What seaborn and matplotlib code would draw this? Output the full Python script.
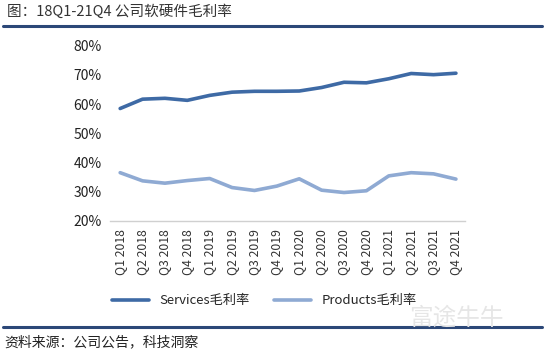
import pandas as pd
import matplotlib.pyplot as plt
import seaborn as sns
from matplotlib.lines import Line2D

quarters = ["Q1 2018", "Q2 2018", "Q3 2018", "Q4 2018",
            "Q1 2019", "Q2 2019", "Q3 2019", "Q4 2019",
            "Q1 2020", "Q2 2020", "Q3 2020", "Q4 2020",
            "Q1 2021", "Q2 2021", "Q3 2021", "Q4 2021"]
services = [58.5, 61.7, 62.0, 61.3, 63.0, 64.1, 64.4, 64.4,
            64.5, 65.7, 67.5, 67.3, 68.7, 70.5, 70.1, 70.6]
products = [36.5, 33.7, 32.9, 33.8, 34.5, 31.4, 30.4, 31.9,
            34.4, 30.5, 29.7, 30.3, 35.4, 36.5, 36.1, 34.3]
series_names = ["Services毛利率", "Products毛利率"]
y_ticks = [20, 30, 40, 50, 60, 70, 80]

sns.set_theme(style="white")
plt.rcParams["font.family"] = ["Noto Sans CJK SC", "DejaVu Sans"]

df = pd.DataFrame({
    "idx": list(range(len(quarters))) * 2,
    "value": services + products,
    "series": [series_names[0]] * len(quarters) + [series_names[1]] * len(quarters),
})
colors = {series_names[0]: "#3e6aa5", series_names[1]: "#8faad3"}

fig = plt.figure(figsize=(5.45, 3.55), dpi=100)
ax = fig.add_axes([0.202, 0.378, 0.651, 0.493])
sns.lineplot(data=df, x="idx", y="value", hue="series", palette=colors,
             linewidth=2.6, legend=False, ax=ax)

ax.set_xlim(-0.45, 15.4)
ax.set_ylim(20, 80)
ax.set_yticks(y_ticks)
ax.set_yticklabels([f"{v}%" for v in y_ticks], fontsize=10, color="#222222")
ax.set_xticks(range(len(quarters)))
ax.set_xticklabels(quarters, rotation=90, fontsize=8.8, color="#333333")
ax.tick_params(axis="both", length=0, pad=6)
ax.set_xlabel("")
ax.set_ylabel("")
for s in ["top", "right", "left"]:
    ax.spines[s].set_visible(False)
ax.spines["bottom"].set_color("#d0d0d0")
ax.spines["bottom"].set_linewidth(1)

# legend
handles = [Line2D([], [], color=colors[n], lw=2.6) for n in series_names]
fig.legend(handles, series_names, loc="center", bbox_to_anchor=(0.485, 0.153),
           ncol=2, frameon=False, fontsize=9.5, handlelength=2.8,
           columnspacing=1.8, handletextpad=0.8)

# header and footer
fig.text(0.012, 0.967, "图：18Q1-21Q4 公司软硬件毛利率", fontsize=10.5,
         color="#333333", va="center")
fig.add_artist(Line2D([0.006, 0.994], [0.927, 0.927], color="#2c4878", lw=2.2,
                      transform=fig.transFigure))
fig.add_artist(Line2D([0.006, 0.994], [0.079, 0.079], color="#2c4878", lw=2.2,
                      transform=fig.transFigure))
fig.text(0.008, 0.037, "资料来源：公司公告，科技洞察", fontsize=10,
         color="#222222", va="center")
fig.text(0.75, 0.105, "富途牛牛", fontsize=17, color="#e6e6e6", va="center")

fig.savefig("out.png", dpi=100)
